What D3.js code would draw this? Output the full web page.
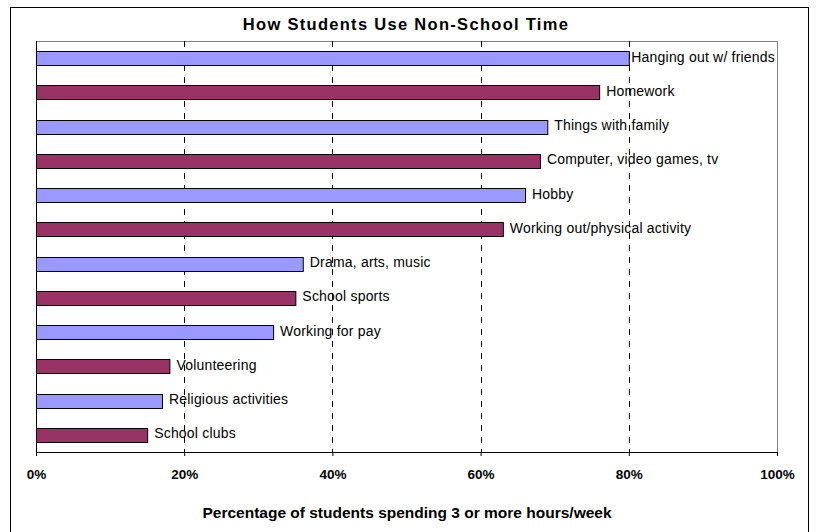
<!DOCTYPE html>
<html><head><meta charset="utf-8">
<script src="https://cdn.jsdelivr.net/npm/d3@7"></script>
<style>body{margin:0;background:#fff}svg{display:block}</style>
</head><body>
<svg id="c" width="816" height="532"></svg>
<script>
const categories = ["Hanging out w/ friends","Homework","Things with family","Computer, video games, tv","Hobby","Working out/physical activity","Drama, arts, music","School sports","Working for pay","Volunteering","Religious activities","School clubs"];
const values = [80,76,69,68,66,63,36,35,32,18,17,15];
const tickValues = [0,20,40,60,80,100];
const title = "How Students Use Non-School Time";
const xTitle = "Percentage of students spending 3 or more hours/week";
const colors = ["#9999ff","#993366"];

const FONT = "Liberation Sans, Arial, sans-serif";
const svg = d3.select("#c");
const L = 36, R = 777, T = 41, B = 452;
svg.append("rect").attr("x",10.5).attr("y",7.5).attr("width",798).attr("height",530)
  .attr("fill","#fff").attr("stroke","#000").attr("stroke-width",1);

const x = d3.scaleLinear().domain([0,100]).range([L,R]);
const y = d3.scaleBand().domain(categories).range([T,B]).paddingInner(0.59).paddingOuter(0.295);

// plot border
svg.append("path").attr("d",`M${L},${T+0.5}H${R+0.5}V${B}`).attr("fill","none").attr("stroke","#808080");

// gridlines
svg.append("g").selectAll("line").data(tickValues.filter(v=>v>0&&v<100)).join("line")
  .attr("x1",d=>Math.round(x(d))+0.5).attr("x2",d=>Math.round(x(d))+0.5)
  .attr("y1",T).attr("y2",B).attr("stroke","#000").attr("stroke-dasharray","6,6");

// bars
svg.append("g").selectAll("rect").data(categories).join("rect")
  .attr("x",L+0.5).attr("y",d=>Math.round(y(d))+0.5)
  .attr("width",(d,i)=>x(values[i])-L).attr("height",Math.round(y.bandwidth()))
  .attr("fill",(d,i)=>colors[i%2]).attr("stroke","#000").attr("stroke-width",1);

// labels
svg.append("g").selectAll("text").data(categories).join("text")
  .attr("y",d=>y(d)+y.bandwidth()/2).attr("dy","0.25em")
  .attr("font-family",FONT).attr("font-size",14).attr("letter-spacing",0.2)
  .text(d=>d)
  .attr("x",function(d,i){const w=this.getComputedTextLength();return Math.min(x(values[i])+7,R-2-w);});

// x axis
const ax = svg.append("g").attr("transform",`translate(0,${B})`)
  .call(d3.axisBottom(x).tickValues(tickValues).tickFormat(d=>d+"%").tickSize(4).tickSizeOuter(0));
ax.select(".domain").attr("stroke","#000");
ax.selectAll(".tick line").attr("stroke","#000");
ax.selectAll("text").attr("font-family",FONT).attr("font-size",13.5)
  .attr("font-weight","bold").attr("fill","#000").attr("y",27).attr("dy",0);
// y axis line
svg.append("line").attr("x1",L+0.5).attr("x2",L+0.5).attr("y1",T).attr("y2",B).attr("stroke","#000");

svg.append("text").attr("x",406).attr("y",30).attr("text-anchor","middle")
  .attr("font-family",FONT).attr("font-size",16.5).attr("font-weight","bold").attr("letter-spacing",1.3).text(title);
svg.append("text").attr("x",407).attr("y",518).attr("text-anchor","middle")
  .attr("font-family",FONT).attr("font-size",15.5).attr("font-weight","bold").text(xTitle);
</script>
</body></html>
